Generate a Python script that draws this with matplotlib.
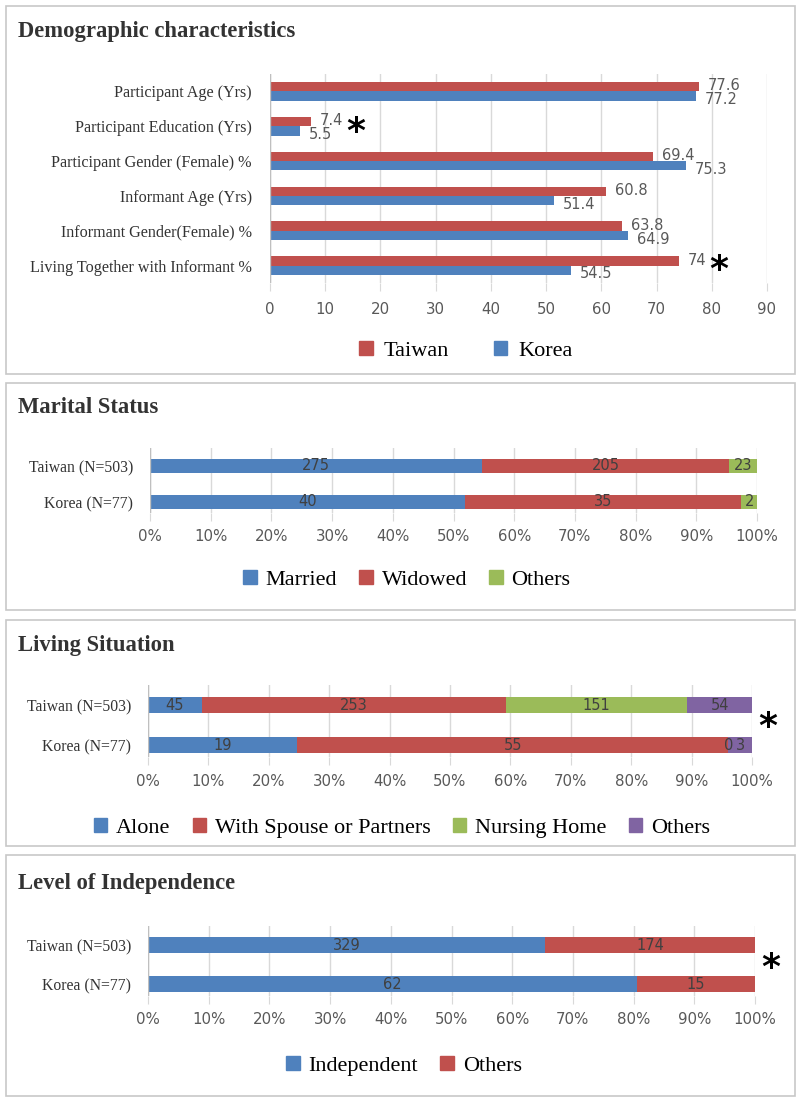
import matplotlib
matplotlib.use("Agg")
import matplotlib.pyplot as plt
from matplotlib.patches import Rectangle, Patch
import numpy as np

# ---- data ----
demo_labels = ['Participant Age (Yrs)', 'Participant Education (Yrs)',
               'Participant Gender (Female) %', 'Informant Age (Yrs)',
               'Informant Gender(Female) %', 'Living Together with Informant %']
demo_taiwan = [77.6, 7.4, 69.4, 60.8, 63.8, 74]
demo_korea = [77.2, 5.5, 75.3, 51.4, 64.9, 54.5]

groups = ['Taiwan (N=503)', 'Korea (N=77)']

marital_cats = ['Married', 'Widowed', 'Others']
marital_taiwan = [275, 205, 23]
marital_korea = [40, 35, 2]

living_cats = ['Alone', 'With Spouse or Partners', 'Nursing Home', 'Others']
living_taiwan = [45, 253, 151, 54]
living_korea = [19, 55, 0, 3]

indep_cats = ['Independent', 'Others']
indep_taiwan = [329, 174]
indep_korea = [62, 15]

BLUE = '#4F81BD'
RED = '#C0504D'
GREEN = '#9BBB59'
PURPLE = '#8064A2'
GRID = '#D9D9D9'
TXT = '#404040'
SERIF = 'Liberation Serif'

W, H = 800, 1101
fig = plt.figure(figsize=(W / 100, H / 100), dpi=100)


def px_axes(left, top, right, bottom):
    return fig.add_axes([left / W, 1 - bottom / H, (right - left) / W, (bottom - top) / H])


def panel_box(top, bottom, title, ty):
    fig.patches.append(Rectangle((6 / W, 1 - bottom / H), 789 / W, (bottom - top) / H,
                                 transform=fig.transFigure, fill=False,
                                 edgecolor='#C8C8C8', linewidth=1.2))
    fig.text(18 / W, 1 - ty / H, title, fontsize=16.3, fontweight='bold',
             family=SERIF, color='#333333', va='center', ha='left')


def star(x, y):
    fig.text(x / W, 1 - y / H, '*', fontsize=26, fontweight='bold', family='DejaVu Sans',
             color='black', ha='center', va='center')


def style_axes(ax):
    for s in ax.spines.values():
        s.set_visible(False)
    ax.grid(axis='x', color=GRID, linewidth=1)
    ax.set_axisbelow(True)
    ax.tick_params(axis='x', length=6, color=GRID, labelsize=10.8, labelcolor='#595959', pad=8)
    ax.tick_params(axis='y', length=0)


# ---- panel 1: demographic characteristics ----
panel_box(6, 374, 'Demographic characteristics', 31)
ax1 = px_axes(270, 74, 767, 283)
y = np.arange(len(demo_labels))
h = 0.27
ax1.barh(y - h / 2, demo_taiwan, height=h, color=RED)
ax1.barh(y + h / 2, demo_korea, height=h, color=BLUE)
ax1.set_ylim(len(demo_labels) - 0.5, -0.5)
ax1.set_xlim(0, 90)
ax1.set_xticks(range(0, 91, 10))
style_axes(ax1)
ax1.axvline(0, color='#BFBFBF', linewidth=1)
ax1.set_yticks(y)
ax1.set_yticklabels(demo_labels, family=SERIF, fontsize=11.6, color='#333333')
ax1.tick_params(axis='y', pad=13)
for i in range(len(demo_labels)):
    ax1.text(demo_taiwan[i] + 1.6, i - 0.16, f'{demo_taiwan[i]:g}', fontsize=10.5,
             color='#595959', va='center', ha='left')
    ax1.text(demo_korea[i] + 1.6, i + 0.24, f'{demo_korea[i]:g}', fontsize=10.5,
             color='#595959', va='center', ha='left')
star(356, 132)
star(719, 270)
fig.legend(handles=[Patch(color=RED, label='Taiwan'), Patch(color=BLUE, label='Korea')],
           loc='center', bbox_to_anchor=(466 / W, 1 - 351 / H), ncol=2, frameon=False,
           prop={'family': SERIF, 'size': 16}, handlelength=0.6, handleheight=0.6,
           handletextpad=0.5, columnspacing=2.0)


# ---- stacked panels ----
def stacked_panel(top, bottom, title, ty, left, right, ytw, yko, cats, tw, ko, colors,
                  legend_y, legend_x):
    panel_box(top, bottom, title, ty)
    unit = yko - ytw
    ax = px_axes(left, ytw - 0.5 * unit, right, yko + 0.3 * unit)
    style_axes(ax)
    ax.set_ylim(-0.3, 1.5)
    ax.set_xlim(0, 1)
    ax.set_xticks(np.linspace(0, 1, 11))
    ax.set_xticklabels([f'{i}%' for i in range(0, 101, 10)])
    ax.tick_params(axis='x', pad=6)
    ax.axvline(0, color='#BFBFBF', linewidth=1)
    for row, vals in [(1, tw), (0, ko)]:
        total = sum(vals)
        start = 0
        for v, c in zip(vals, colors):
            frac = v / total
            ax.barh(row, frac, left=start, height=0.39, color=c)
            ax.text(start + frac / 2, row, str(v), fontsize=10.5, color=TXT,
                    ha='center', va='center')
            start += frac
    ax.set_yticks([1, 0])
    ax.set_yticklabels(groups, family=SERIF, fontsize=11.3, color='#333333')
    ax.tick_params(axis='y', pad=12)
    fig.legend(handles=[Patch(color=c, label=l) for c, l in zip(colors, cats)],
               loc='center', bbox_to_anchor=(legend_x / W, 1 - legend_y / H),
               ncol=len(cats), frameon=False, prop={'family': SERIF, 'size': 16},
               handlelength=0.6, handleheight=0.6, handletextpad=0.4, columnspacing=1.0)
    return ax


stacked_panel(383, 610, 'Marital Status', 408, 150, 757, 466, 502,
              marital_cats, marital_taiwan, marital_korea, [BLUE, RED, GREEN], 580, 407)
stacked_panel(620, 846, 'Living Situation', 646, 148, 752, 705, 745,
              living_cats, living_taiwan, living_korea, [BLUE, RED, GREEN, PURPLE], 828, 402)
star(768, 727)
stacked_panel(855, 1096, 'Level of Independence', 884, 148, 755, 945, 984,
              indep_cats, indep_taiwan, indep_korea, [BLUE, RED], 1066, 404)
star(771, 968)

fig.savefig('out.png', dpi=100)
